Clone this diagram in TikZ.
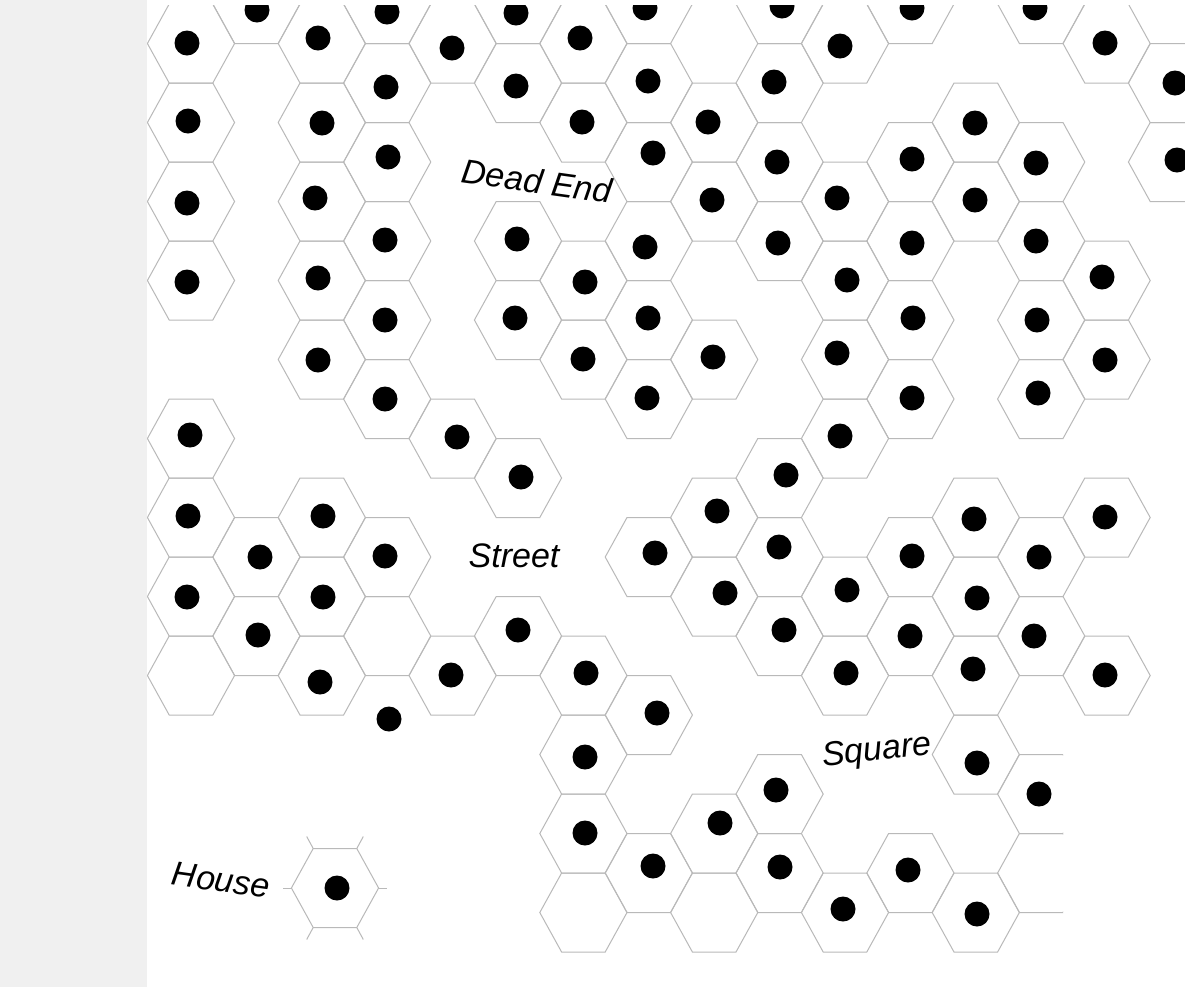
\documentclass[tikz,border=0pt]{standalone}
\usepackage{fontspec}
\setmainfont{Liberation Sans}
\usepackage{tikz}
\usetikzlibrary{positioning, calc}
\definecolor{StripGray}{RGB}{240,240,240}
\definecolor{HexGray}{RGB}{185,185,185}

\tikzset{
  hexline/.style={draw=HexGray, line width=0.5pt, line join=miter},
  housedot/.style={fill=black},
  placename/.style={font=\itshape\fontsize{17}{17}\selectfont, inner sep=0pt}
}

\begin{document}
\begin{tikzpicture}[x=0.5pt, y=-0.5pt]
    \useasboundingbox (0,0) rectangle (1185,987);
    \fill[white] (0,0) rectangle (1185,987);
    \fill[StripGray] (0,0) rectangle (147,987);

    % the honeycomb, cut at the strip and the lower right corner
    \begin{scope}
      \clip (147,5) -- (1185,5) -- (1185,717) -- (1063,717) -- (1063,987) -- (147,987) -- cycle;
      \foreach \c/\r in {0/0,0/1,0/2,0/3,0/5,0/6,0/7,0/8,
                         1/0,1/7,1/8,
                         2/0,2/1,2/2,2/3,2/4,2/6,2/7,2/8,
                         3/0,3/1,3/2,3/3,3/4,3/5,3/7,3/8,
                         4/0,4/5,4/8,
                         5/0,5/1,5/3,5/4,5/6,5/8,
                         6/0,6/1,6/3,6/4,6/8,6/9,6/10,6/11,
                         7/0,7/1,7/2,7/3,7/4,7/5,7/7,7/9,7/11,
                         8/1,8/2,8/4,8/6,8/7,8/10,8/11,
                         9/0,9/1,9/2,9/3,9/6,9/7,9/8,9/10,9/11,
                         10/0,10/2,10/3,10/4,10/5,10/7,10/8,10/11,
                         11/0,11/2,11/3,11/4,11/5,11/7,11/8,11/11,
                         12/1,12/2,12/6,12/7,12/8,12/9,12/11,
                         13/0,13/2,13/3,13/4,13/5,13/7,13/8,13/10,13/11,
                         14/0,14/3,14/4,14/6,14/8,
                         15/1,15/2} {
        \pgfmathsetmacro{\hx}{191+65.4*\c}
        \pgfmathsetmacro{\hy}{4+39.5*(1-mod(\c,2))+79*\r}
        \draw[hexline] (\hx-43.6,\hy) -- ++(21.8,-39.5) -- ++(43.6,0)
          -- ++(21.8,39.5) -- ++(-21.8,39.5) -- ++(-43.6,0) -- cycle;
      }
      % houses
      \foreach \dx/\dy in {187/43,188/121,187/203,187/282,190/435,188/516,187/597,
                           257/10,260/557,258/635,
                           318/38,322/123,315/198,318/278,318/360,323/516,323/597,320/682,
                           387/12,386/87,388/157,385/240,385/320,385/399,385/556,389/719,
                           452/48,457/437,451/675,
                           516/13,516/86,517/239,515/318,521/477,518/630,
                           580/38,582/122,585/282,583/359,586/673,585/757,585/833,
                           645/8,648/81,653/153,645/247,648/318,647/398,655/553,657/713,653/866,
                           708/122,712/200,713/357,717/511,725/593,720/823,
                           782/6,774/82,777/162,778/243,786/475,779/547,784/630,776/790,780/867,
                           840/46,837/198,847/280,837/353,840/436,847/590,846/673,843/909,
                           912/8,912/159,912/243,913/318,912/398,912/556,910/636,908/870,
                           975/123,975/200,974/519,977/598,973/669,977/763,977/914,
                           1035/8,1036/163,1036/241,1037/320,1038/393,1039/557,1034/636,1039/794,
                           1105/43,1102/277,1105/360,1105/517,1105/675,
                           1175/83,1177/160}
        \fill[housedot] (\dx,\dy) circle[radius=12.5];
    \end{scope}

    % the lone house cell with its stubs
    \coordinate (home) at (335,888);
    \draw[hexline] ($(home)+(-43.6,0)$) -- ++(21.8,-39.5) -- ++(43.6,0)
      -- ++(21.8,39.5) -- ++(-21.8,39.5) -- ++(-43.6,0) -- cycle;
    \draw[hexline] ($(home)+(-21.8,-39.5)$) -- ++(-6.5,-12);
    \draw[hexline] ($(home)+(21.8,-39.5)$) -- ++(6.5,-12);
    \draw[hexline] ($(home)+(-21.8,39.5)$) -- ++(-6.5,12);
    \draw[hexline] ($(home)+(21.8,39.5)$) -- ++(6.5,12);
    \draw[hexline] ($(home)+(-43.6,0)$) -- ++(-8,0);
    \draw[hexline] ($(home)+(43.6,0)$) -- ++(8,0);
    \fill[housedot] (337,888) circle[radius=12.5];

    \node[placename, rotate=-8] (deadend) at (537,181) {Dead End};
    \node[placename] (street) at (514,556) {Street};
    \node[placename, rotate=6] (square) at (877,752) {Square};
    \node[placename, rotate=-8] (house) at (221,880) {House};
\end{tikzpicture}
\end{document}
